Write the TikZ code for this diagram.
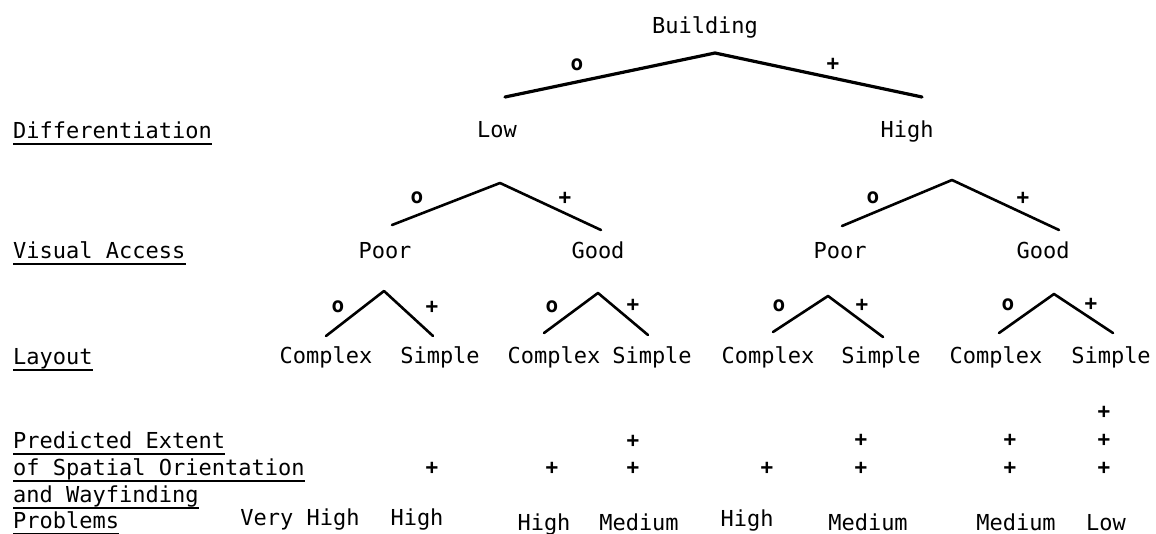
\documentclass[tikz,border=0pt]{standalone}
\usepackage{fontspec}
\newfontfamily\tw{DejaVu Sans Mono}
\begin{document}
\begin{tikzpicture}[x=1pt,y=-1pt,
  txt/.style={font=\tw\fontsize{22}{26}\selectfont, inner sep=0pt, anchor=base},
  rowlbl/.style={font=\tw\fontsize{22}{26}\selectfont, inner sep=0pt, anchor=base west},
  sgn/.style={font=\tw\bfseries\fontsize{21}{24}\selectfont, inner sep=0pt},
  edge/.style={line width=2.6pt, line cap=round, line join=round},
  ul/.style={line width=1.6pt}]
\useasboundingbox (0,0) rectangle (1156,533);

% ---- row labels ----
\node[rowlbl] (rdif) at (13,138) {Differentiation};
\node[rowlbl] (rvis) at (13,258) {Visual Access};
\node[rowlbl] (rlay) at (13,364) {Layout};
\node[rowlbl] (rp1) at (13,448) {Predicted Extent};
\node[rowlbl] (rp2) at (13,475) {of Spatial Orientation};
\node[rowlbl] (rp3) at (13,502) {and Wayfinding};
\node[rowlbl] (rp4) at (13,528) {Problems};
\foreach \n in {rdif,rvis,rlay,rp1,rp2,rp3,rp4}
  \draw[ul] ([yshift=-6pt]\n.base west) -- ([yshift=-6pt]\n.base east);

% ---- level 0 ----
\node[txt] (bld) at (705,33) {Building};
\coordinate (a0) at (715,53);
\coordinate (a0l) at (505,97);
\coordinate (a0r) at (922,97);
\draw[edge, line width=3.2pt] (a0l) -- (a0) -- (a0r);
\node[sgn] (s0o) at (577,65) {o};
\node[sgn] (s0p) at (833,64) {+};

% ---- level 1 ----
\node[txt] (low) at (497,137) {Low};
\node[txt] (high) at (907,137) {High};

\coordinate (a1) at (500,183);
\coordinate (a1l) at (392,225);
\coordinate (a1r) at (601,230);
\draw[edge] (a1l) -- (a1) -- (a1r);
\node[sgn] (s1o) at (417,198) {o};
\node[sgn] (s1p) at (565,198) {+};

\coordinate (a2) at (952,180);
\coordinate (a2l) at (842,226);
\coordinate (a2r) at (1059,230);
\draw[edge] (a2l) -- (a2) -- (a2r);
\node[sgn] (s2o) at (873,198) {o};
\node[sgn] (s2p) at (1023,198) {+};

% ---- level 2 ----
\node[txt] (poor1) at (385,258) {Poor};
\node[txt] (good1) at (598,258) {Good};
\node[txt] (poor2) at (840,258) {Poor};
\node[txt] (good2) at (1043,258) {Good};

\coordinate (b1) at (384,291);
\coordinate (b1l) at (326,336);
\coordinate (b1r) at (433,336);
\draw[edge] (b1l) -- (b1) -- (b1r);
\node[sgn] (t1o) at (338,307) {o};
\node[sgn] (t1p) at (432,307) {+};

\coordinate (b2) at (598,293);
\coordinate (b2l) at (544,333);
\coordinate (b2r) at (648,335);
\draw[edge] (b2l) -- (b2) -- (b2r);
\node[sgn] (t2o) at (552,307) {o};
\node[sgn] (t2p) at (633,305) {+};

\coordinate (b3) at (828,296);
\coordinate (b3l) at (773,332);
\coordinate (b3r) at (883,337);
\draw[edge] (b3l) -- (b3) -- (b3r);
\node[sgn] (t3o) at (779,306) {o};
\node[sgn] (t3p) at (862,305) {+};

\coordinate (b4) at (1054,294);
\coordinate (b4l) at (999,333);
\coordinate (b4r) at (1113,333);
\draw[edge] (b4l) -- (b4) -- (b4r);
\node[sgn] (t4o) at (1008,305) {o};
\node[sgn] (t4p) at (1091,304) {+};

% ---- level 3 ----
\node[txt] (c1) at (326,363) {Complex};
\node[txt] (s1) at (440,363) {Simple};
\node[txt] (c2) at (554,363) {Complex};
\node[txt] (s2) at (652,363) {Simple};
\node[txt] (c3) at (768,363) {Complex};
\node[txt] (s3) at (881,363) {Simple};
\node[txt] (c4) at (996,363) {Complex};
\node[txt] (s4) at (1111,363) {Simple};

% ---- predicted plus marks ----
\node[sgn] (p1) at (432,468) {+};
\node[sgn] (p2) at (552,468) {+};
\node[sgn] (p3a) at (633,468) {+};
\node[sgn] (p3b) at (633,441) {+};
\node[sgn] (p4) at (767,468) {+};
\node[sgn] (p5a) at (861,468) {+};
\node[sgn] (p5b) at (861,440) {+};
\node[sgn] (p6a) at (1010,468) {+};
\node[sgn] (p6b) at (1010,440) {+};
\node[sgn] (p7a) at (1104,468) {+};
\node[sgn] (p7b) at (1104,440) {+};
\node[sgn] (p7c) at (1104,412) {+};

% ---- outcomes ----
\node[txt] (o0) at (300,525) {Very High};
\node[txt] (o1) at (417,525) {High};
\node[txt] (o2) at (544,530) {High};
\node[txt] (o3) at (639,530) {Medium};
\node[txt] (o4) at (747,526) {High};
\node[txt] (o5) at (868,530) {Medium};
\node[txt] (o6) at (1016,530) {Medium};
\node[txt] (o7) at (1106,530) {Low};
\end{tikzpicture}
\end{document}
